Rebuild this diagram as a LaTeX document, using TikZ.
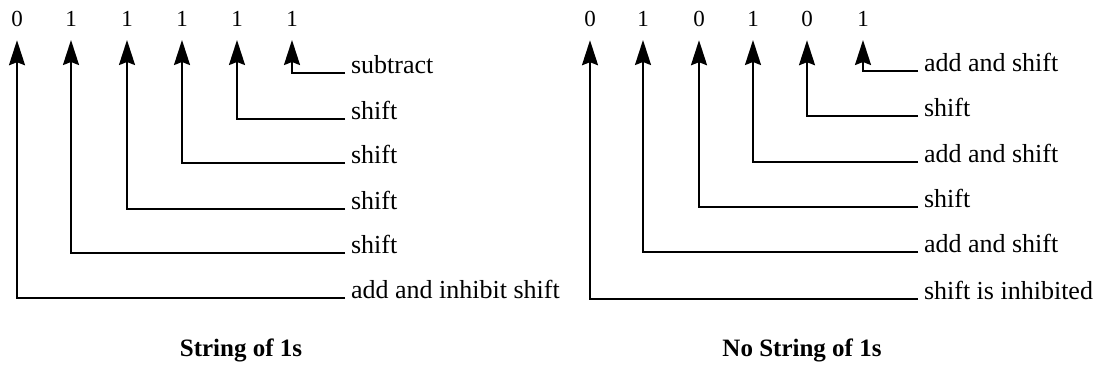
\documentclass[tikz,border=0pt]{standalone}
\usepackage{fontspec}
\setmainfont{Liberation Serif}
\usetikzlibrary{arrows.meta}
\begin{document}
\begin{tikzpicture}[x=1pt,y=-1pt,
  digit/.style={font=\fontsize{23}{26}\selectfont, inner sep=0pt, outer xsep=0pt, outer ysep=13pt, anchor=base},
  lab/.style={font=\fontsize{26}{30}\selectfont, inner sep=0pt, outer xsep=6pt, outer ysep=0pt, anchor=base west},
  captext/.style={font=\fontsize{25}{29}\selectfont\bfseries, inner sep=0pt, anchor=base},
  conn/.style={line width=2pt, -{Stealth[length=25pt,width=16pt,inset=3pt]}}]
\useasboundingbox (0,0) rectangle (1099,369);
% left: String of 1s
\node[digit] (a0) at (17,27) {0};
\node[digit] (a1) at (71,27) {1};
\node[digit] (a2) at (127,27) {1};
\node[digit] (a3) at (182,27) {1};
\node[digit] (a4) at (237,27) {1};
\node[digit] (a5) at (292,27) {1};
\node[lab] (la5) at (345,73) {subtract};
\node[lab] (la4) at (345,119) {shift};
\node[lab] (la3) at (345,163) {shift};
\node[lab] (la2) at (345,209) {shift};
\node[lab] (la1) at (345,253) {shift};
\node[lab] (la0) at (345,298) {add and inhibit shift};
\foreach \i in {0,...,5} {\draw[conn] (la\i.base west) -| (a\i.south);}
\node[captext] (ca) at (241,356) {String of 1s};
% right: No String of 1s
\node[digit] (b0) at (590,27) {0};
\node[digit] (b1) at (643,27) {1};
\node[digit] (b2) at (699,27) {0};
\node[digit] (b3) at (753,27) {1};
\node[digit] (b4) at (807,27) {0};
\node[digit] (b5) at (863,27) {1};
\node[lab] (lb5) at (918,71) {add and shift};
\node[lab] (lb4) at (918,116) {shift};
\node[lab] (lb3) at (918,162) {add and shift};
\node[lab] (lb2) at (918,207) {shift};
\node[lab] (lb1) at (918,252) {add and shift};
\node[lab] (lb0) at (918,299) {shift is inhibited};
\foreach \i in {0,...,5} {\draw[conn] (lb\i.base west) -| (b\i.south);}
\node[captext] (cb) at (802,356) {No String of 1s};
\end{tikzpicture}
\end{document}
